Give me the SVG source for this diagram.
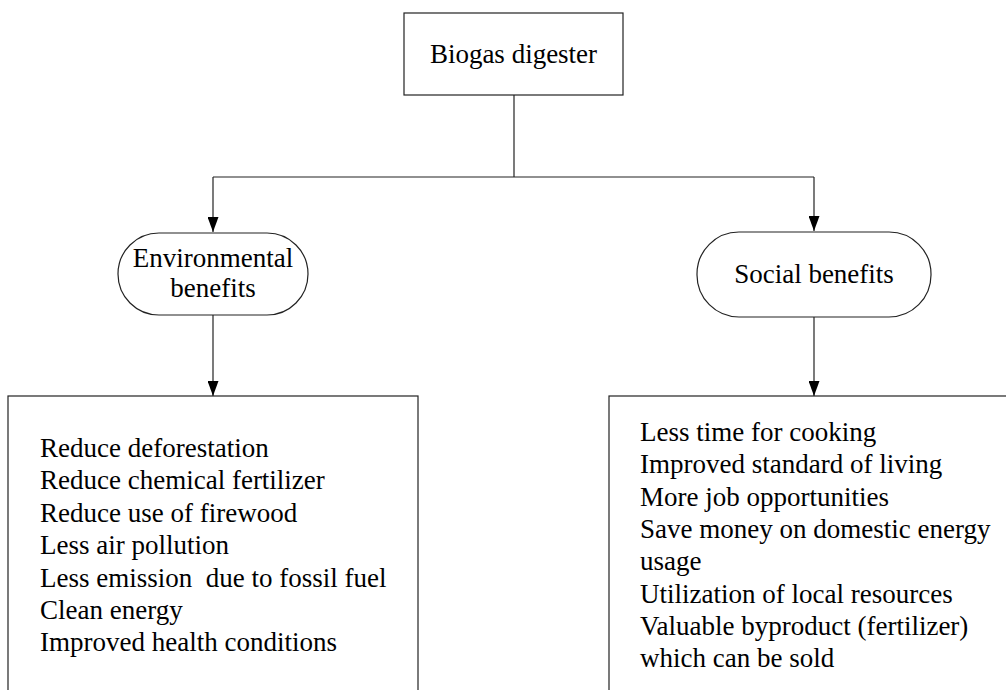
<svg xmlns="http://www.w3.org/2000/svg" width="1006" height="690" viewBox="0 0 1006 690">
<style>
.box{fill:#fff;stroke:#222;stroke-width:1.2}
.ln{fill:none;stroke:#222;stroke-width:1.2}
text{font-family:"Liberation Serif","Times New Roman",serif;font-size:27px;fill:#000}
.c{text-anchor:middle}
</style>
<defs>
<marker id="ad" markerWidth="15" markerHeight="11" refX="15" refY="5.5" orient="auto" markerUnits="userSpaceOnUse" viewBox="0 0 15 11">
<path d="M0,0 L15,5.5 L0,11 Z" fill="#000"/>
</marker>
</defs>
<g id="connectors">
<path class="ln" d="M514,95 V177"/>
<path class="ln" d="M213,177 H814"/>
<path class="ln" d="M213,177 V232" marker-end="url(#ad)"/>
<path class="ln" d="M814,177 V231" marker-end="url(#ad)"/>
<path class="ln" d="M213,315 V396" marker-end="url(#ad)"/>
<path class="ln" d="M814,317 V396" marker-end="url(#ad)"/>
</g>
<g id="biogas">
<rect class="box" x="404" y="13" width="219" height="82"/>
<text class="c" x="513.5" y="63">Biogas digester</text>
</g>
<g id="env">
<rect class="box" x="118" y="233" width="190" height="82" rx="41" ry="41"/>
<text class="c" x="213" y="267">Environmental</text>
<text class="c" x="213" y="297">benefits</text>
</g>
<g id="social">
<rect class="box" x="697" y="232" width="234" height="85" rx="42" ry="42"/>
<text class="c" x="814" y="283">Social benefits</text>
</g>
<g id="env-list">
<rect class="box" x="8" y="396" width="410" height="310"/>
<text x="40" y="457">Reduce deforestation</text>
<text x="40" y="489.4">Reduce chemical fertilizer</text>
<text x="40" y="521.8">Reduce use of firewood</text>
<text x="40" y="554.2">Less air pollution</text>
<text x="40" y="586.6" xml:space="preserve">Less emission  due to fossil fuel</text>
<text x="40" y="619">Clean energy</text>
<text x="40" y="651.4">Improved health conditions</text>
</g>
<g id="social-list">
<rect class="box" x="609" y="396" width="410" height="310"/>
<text x="640" y="441">Less time for cooking</text>
<text x="640" y="473.3">Improved standard of living</text>
<text x="640" y="505.6">More job opportunities</text>
<text x="640" y="537.9">Save money on domestic energy</text>
<text x="640" y="570.2">usage</text>
<text x="640" y="602.5">Utilization of local resources</text>
<text x="640" y="634.8">Valuable byproduct (fertilizer)</text>
<text x="640" y="667.1">which can be sold</text>
</g>
</svg>
